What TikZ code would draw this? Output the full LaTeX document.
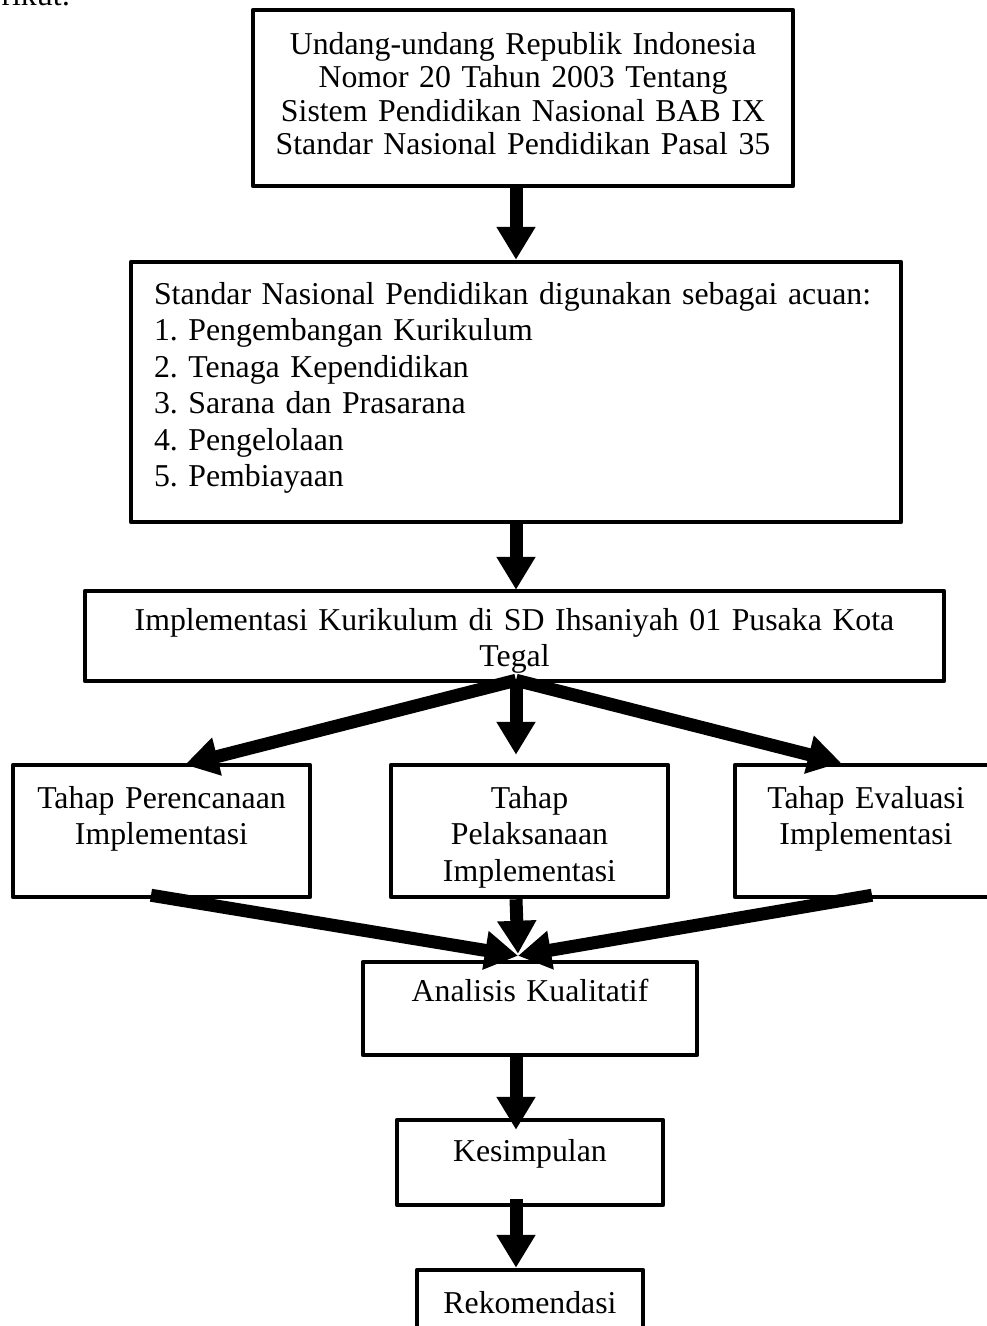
\documentclass[tikz,border=0pt]{standalone}
\usepackage{fontspec}
\setmainfont{Liberation Serif}
\frenchspacing
\usetikzlibrary{positioning,calc,arrows.meta}
\newlength{\basisalur}
\setlength{\basisalur}{10pt}
\tikzset{
    kotak/.style={draw, line width=0.45\basisalur, line join=round, inner sep=0pt, align=center,
        font=\fontsize{31.8}{36.5}\selectfont},
    panah/.style={line width=1.3\basisalur, -{Triangle[width=37pt,length=33pt]}},
}

\begin{document}
\begin{tikzpicture}
    \useasboundingbox (0,0) rectangle (98.7\basisalur,-132.6\basisalur);
    \clip (0,0) rectangle (98.7\basisalur,-132.6\basisalur);

    \node[anchor=base west, font=\fontsize{31.8}{36.5}\selectfont] (rikut) at (-0.2\basisalur,-0.5\basisalur) {rikut:};

    \draw (52.3\basisalur,-9.8\basisalur) 
		node[kotak, font=\fontsize{31.8}{33.5}\selectfont, minimum width=54\basisalur, minimum height=17.6\basisalur, text width=54\basisalur, text height=4.4\basisalur, text depth=13.2\basisalur] 
			(undang) {Undang-undang Republik Indonesia\\Nomor 20 Tahun 2003 Tentang\\Sistem Pendidikan Nasional BAB IX\\Standar Nasional Pendidikan Pasal 35};

    \draw (51.6\basisalur,-39.2\basisalur) 
		node[kotak, align=left, inner xsep=2.3\basisalur, minimum width=77\basisalur, minimum height=26\basisalur, text width=72.4\basisalur, text height=4.2\basisalur, text depth=21.8\basisalur] 
			(acuan) {Standar Nasional Pendidikan digunakan sebagai acuan:\\1. Pengembangan Kurikulum\\2. Tenaga Kependidikan\\3. Sarana dan Prasarana\\4. Pengelolaan\\5. Pembiayaan};

    \draw (51.45\basisalur,-63.6\basisalur) 
		node[kotak, minimum width=85.9\basisalur, minimum height=9\basisalur, text width=85.9\basisalur, text height=3.9\basisalur, text depth=5.1\basisalur] 
			(implementasi) {Implementasi Kurikulum di SD Ihsaniyah 01 Pusaka Kota\\Tegal};

    \draw (16.15\basisalur,-83.1\basisalur) 
		node[kotak, minimum width=29.7\basisalur, minimum height=13.2\basisalur, text width=29.7\basisalur, text height=4.3\basisalur, text depth=8.9\basisalur] 
			(perencanaan) {Tahap Perencanaan\\Implementasi};

    \draw (52.95\basisalur,-83.1\basisalur) 
		node[kotak, minimum width=27.7\basisalur, minimum height=13.2\basisalur, text width=27.7\basisalur, text height=4.3\basisalur, text depth=8.9\basisalur] 
			(pelaksanaan) {Tahap\\Pelaksanaan\\Implementasi};

    \draw (86.6\basisalur,-83.1\basisalur) 
		node[kotak, minimum width=26.2\basisalur, minimum height=13.2\basisalur, text width=26.2\basisalur, text height=4.3\basisalur, text depth=8.9\basisalur] 
			(evaluasi) {Tahap Evaluasi\\Implementasi};

    \draw (53\basisalur,-100.85\basisalur) 
		node[kotak, minimum width=33.4\basisalur, minimum height=9.3\basisalur, text width=33.4\basisalur, text height=3.9\basisalur, text depth=5.4\basisalur] 
			(analisis) {Analisis Kualitatif};

    \draw (53\basisalur,-116.25\basisalur) 
		node[kotak, minimum width=26.6\basisalur, minimum height=8.5\basisalur, text width=26.6\basisalur, text height=4.1\basisalur, text depth=4.4\basisalur] 
			(kesimpulan) {Kesimpulan};

    \draw (53\basisalur,-131.3\basisalur) 
		node[kotak, minimum width=22.6\basisalur, minimum height=8.6\basisalur, text width=22.6\basisalur, text height=4.3\basisalur, text depth=4.3\basisalur] 
			(rekomendasi) {Rekomendasi};

    \coordinate (sumbu) at (51.6\basisalur,0);

	\draw[panah] (undang.south -| sumbu) -- (acuan.north -| sumbu);
	\draw[panah] (acuan.south -| sumbu) -- ($(implementasi.north -| sumbu)+(0,-0.1\basisalur)$);
	\draw[panah] ($(implementasi.south -| sumbu)+(0,0.3\basisalur)$) -- ($(perencanaan.north)+(2.35\basisalur,-0.2\basisalur)$);
	\draw[panah] ($(implementasi.south -| sumbu)+(0,0.3\basisalur)$) -- ($(pelaksanaan.north -| sumbu)+(0,0.8\basisalur)$);
	\draw[panah] ($(implementasi.south -| sumbu)+(0,0.3\basisalur)$) -- ($(evaluasi.north)+(-2.5\basisalur,0)$);
	\draw[panah] ($(perencanaan.south)+(-1.05\basisalur,0.4\basisalur)$) -- ($(analisis.north -| sumbu)+(0.2\basisalur,0.4\basisalur)$);
	\draw[panah] (pelaksanaan.south -| sumbu) -- ($(analisis.north -| sumbu)+(0.2\basisalur,0.6\basisalur)$);
	\draw[panah] ($(evaluasi.south)+(0.6\basisalur,0.4\basisalur)$) -- ($(analisis.north -| sumbu)+(0.2\basisalur,0.4\basisalur)$);
	\draw[panah] (analisis.south -| sumbu) -- ($(kesimpulan.north -| sumbu)+(0,-1.2\basisalur)$);
	\draw[panah] ($(kesimpulan.south -| sumbu)+(0,0.8\basisalur)$) -- (rekomendasi.north -| sumbu);
\end{tikzpicture}
\end{document}
